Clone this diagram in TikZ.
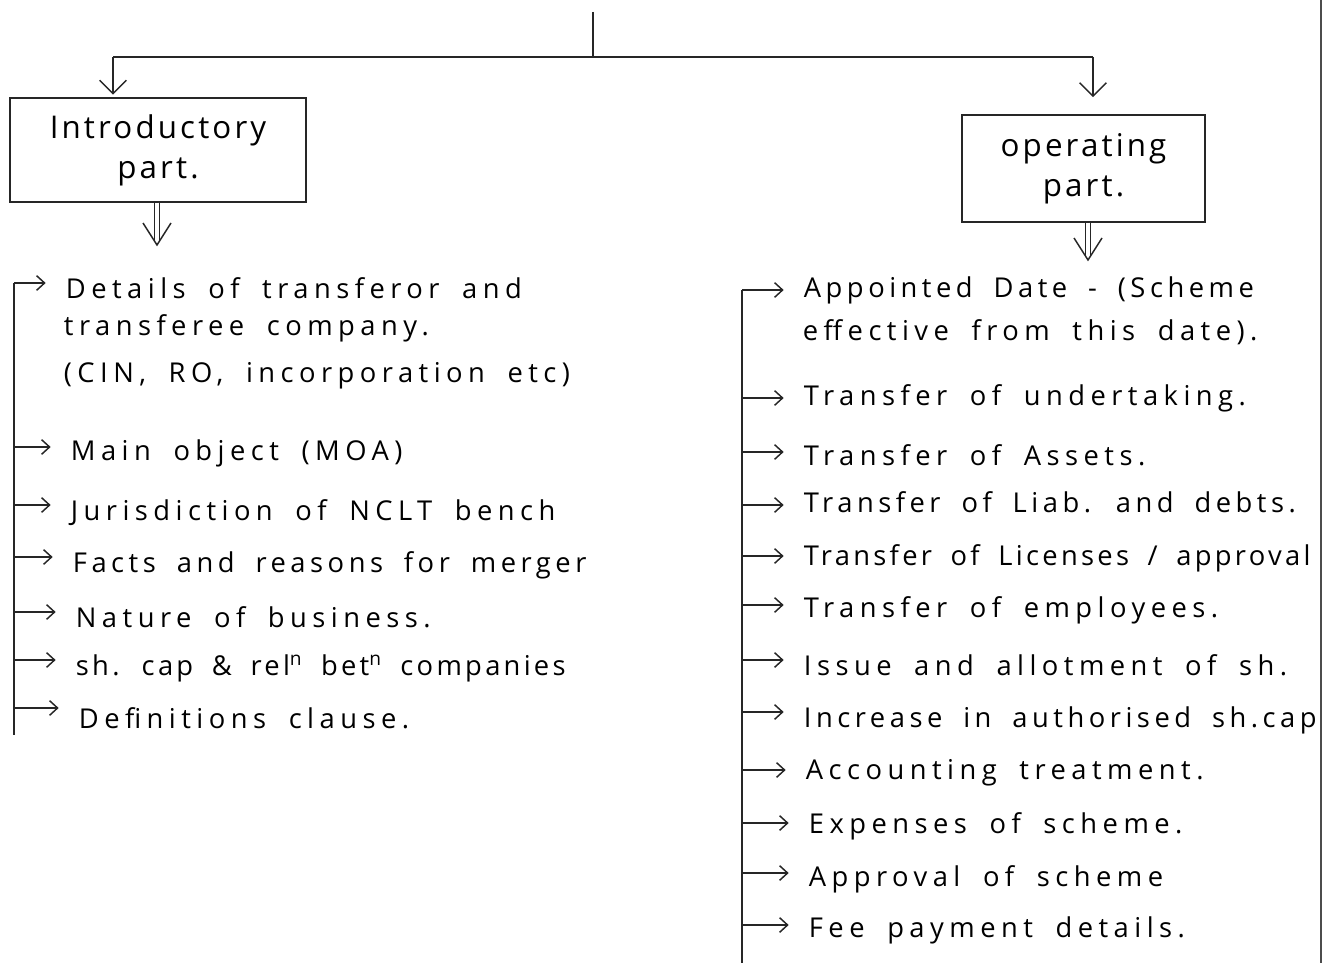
\documentclass[tikz,border=0pt]{standalone}
\usepackage{fontspec}
\setmainfont{Open Sans}[LetterSpace=20, WordSpace=1.8]
\newfontfamily\boxfont{Open Sans}[LetterSpace=10, WordSpace=1.5]
\newfontfamily\tightfont{Open Sans}[LetterSpace=12, WordSpace=1.8]
\newfontfamily\midfont{Open Sans}[LetterSpace=16.5, WordSpace=1.8]
\usetikzlibrary{arrows.meta,calc}
\begin{document}
\begin{tikzpicture}[x=0.75pt,y=-0.75pt,
  ln/.style={line width=1.1pt, draw=black!85},
  boxnode/.style={draw=black!85, line width=1.1pt, align=center, inner sep=0pt,
    font=\boxfont\fontsize{23.5}{30}\selectfont},
  item/.style={anchor=west, inner sep=2pt, font=\fontsize{20.5}{22}\selectfont},
  tight/.style={font=\tightfont\fontsize{20.5}{22}\selectfont},
  mid/.style={font=\midfont\fontsize{20.5}{22}\selectfont},
  la/.style={ln, shorten >=13pt, -{Straight Barb[length=6pt,width=11pt]}},
  da/.style={ln, -{Straight Barb[length=10pt,width=20pt]}},
  dbl/.style={line width=0.8pt, draw=black!85, double, double distance=2.6pt, shorten >=2pt},
]
\useasboundingbox (0,0) rectangle (1335,963);
\fill[white] (0,0) rectangle (1335,963);
% page edge
\draw[line width=0.8pt, black!70] (1321,0) -- (1321,963);

% top connectors
\coordinate (top) at (593,12);
\coordinate (jm) at (593,57);
\coordinate (jl) at (113,57);
\coordinate (jr) at (1093,57);

\node[boxnode, minimum width=222pt, minimum height=78pt] (lbox) at (158,150) {Introductory\\part.};
\node[boxnode, minimum width=182pt, minimum height=80pt] (rbox) at (1083.5,168.5) {operating\\part.};

\draw[ln] (top) -- (jm);
\draw[ln] (jl) -- (jr);
\draw[da, shorten >=2pt] (jl) -- (jl |- lbox.north);
\draw[da, shorten >=13pt] (jr) -- (jr |- rbox.north);

% double arrows
\coordinate (ld) at (157,245);
\coordinate (rd) at (1088,260);
\draw[dbl] (ld |- lbox.south) -- (ld);
\draw[ln] ($(ld)+(-14,-22)$) -- (ld) -- ($(ld)+(14,-22)$);
\draw[dbl] (rd |- rbox.south) -- (rd);
\draw[ln] ($(rd)+(-14,-22)$) -- (rd) -- ($(rd)+(14,-22)$);

% left list
\coordinate (lt) at (14,283);
\coordinate (lb) at (14,735);
\node[item] (l1) at (63,288) {Details of transferor and};
\node[item] (l1b) at (61,328) {transferee company.};
\node[item] (l1c) at (61,376) {(CIN, RO, incorporation etc)};
\node[item] (l2) at (68,453) {Main object (MOA)};
\node[item] (l3) at (68,513) {Jurisdiction of NCLT bench};
\node[item, mid] (l4) at (70,565) {Facts and reasons for merger};
\node[item] (l5) at (73,617) {Nature of business.};
\node[item, tight] (l6) at (73,668) {sh. cap \& rel\textsuperscript{n} bet\textsuperscript{n} companies};
\node[item] (l7) at (76,718) {Definitions clause.};
\draw[ln] (lt) -- (lb);
\coordinate (b1) at (14,283);
\coordinate (b2) at (14,447);
\coordinate (b3) at (14,505);
\coordinate (b4) at (14,557);
\coordinate (b5) at (14,612);
\coordinate (b6) at (14,660);
\coordinate (b7) at (14,708);
\draw[la] (b1) -- (b1 -| l1.west);
\draw[la] (b2) -- (b2 -| l2.west);
\draw[la] (b3) -- (b3 -| l3.west);
\draw[la] (b4) -- (b4 -| l4.west);
\draw[la] (b5) -- (b5 -| l5.west);
\draw[la] (b6) -- (b6 -| l6.west);
\draw[la] (b7) -- (b7 -| l7.west);

% right list
\coordinate (rt) at (742,290);
\coordinate (rb) at (742,963);
\node[item, mid] (r1) at (801,290) {Appointed Date - (Scheme};
\node[item] (r1b) at (800,332) {effective from this date).};
\node[item] (r2) at (801,398) {Transfer of undertaking.};
\node[item] (r3) at (801,455) {Transfer of Assets.};
\node[item, mid] (r4) at (801,502) {Transfer of Liab. and debts.};
\node[item, tight] (r5) at (801,558) {Transfer of Licenses / approval};
\node[item] (r6) at (801,610) {Transfer of employees.};
\node[item] (r7) at (801,665) {Issue and allotment of sh.};
\node[item, mid] (r8) at (801,720) {Increase in authorised sh.cap};
\node[item] (r9) at (803,773) {Accounting treatment.};
\node[item] (r10) at (806,826) {Expenses of scheme.};
\node[item] (r11) at (806,879) {Approval of scheme};
\node[item] (r12) at (806,930) {Fee payment details.};
\draw[ln] (rt) -- (rb);
\coordinate (c1) at (742,290);
\coordinate (c2) at (742,398);
\coordinate (c3) at (742,452);
\coordinate (c4) at (742,505);
\coordinate (c5) at (742,556);
\coordinate (c6) at (742,605);
\coordinate (c7) at (742,660);
\coordinate (c8) at (742,712);
\coordinate (c9) at (742,770);
\coordinate (c10) at (742,823);
\coordinate (c11) at (742,873);
\coordinate (c12) at (742,925);
\draw[la] (c1) -- (c1 -| r1.west);
\draw[la] (c2) -- (c2 -| r2.west);
\draw[la] (c3) -- (c3 -| r3.west);
\draw[la] (c4) -- (c4 -| r4.west);
\draw[la] (c5) -- (c5 -| r5.west);
\draw[la] (c6) -- (c6 -| r6.west);
\draw[la] (c7) -- (c7 -| r7.west);
\draw[la] (c8) -- (c8 -| r8.west);
\draw[la] (c9) -- (c9 -| r9.west);
\draw[la] (c10) -- (c10 -| r10.west);
\draw[la] (c11) -- (c11 -| r11.west);
\draw[la] (c12) -- (c12 -| r12.west);
\end{tikzpicture}
\end{document}
